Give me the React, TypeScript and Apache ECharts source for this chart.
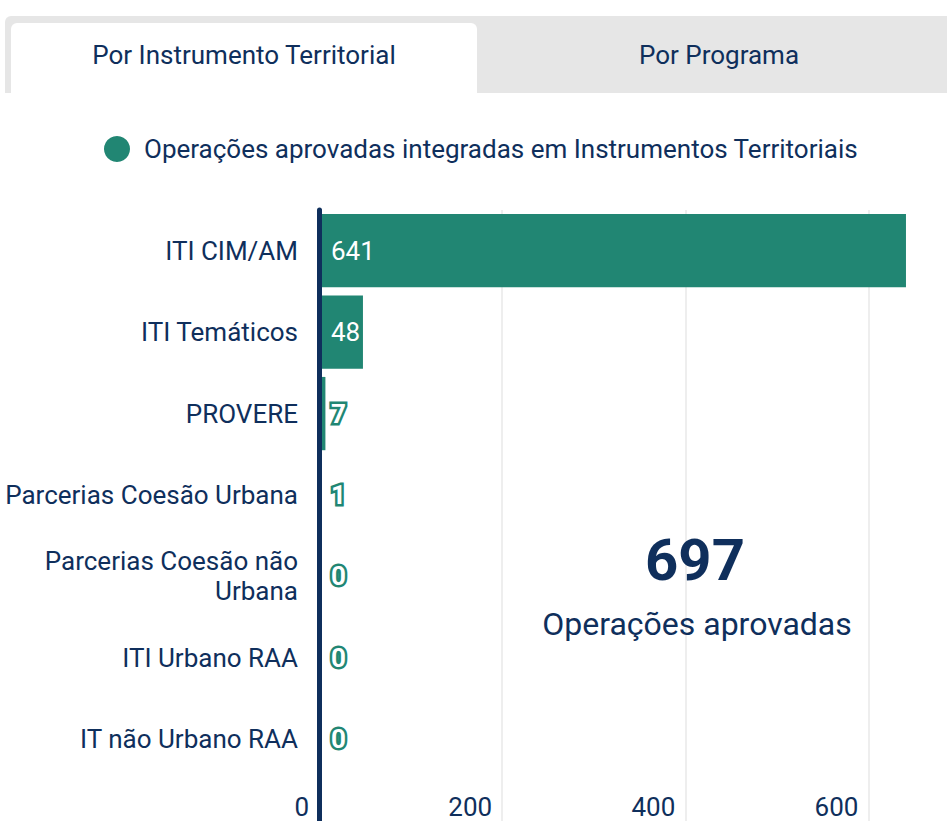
import React, { useEffect, useRef } from "react";
import * as echarts from "echarts";

const categories = [
  "ITI CIM/AM",
  "ITI Temáticos",
  "PROVERE",
  "Parcerias Coesão Urbana",
  "Parcerias Coesão não Urbana",
  "ITI Urbano RAA",
  "IT não Urbano RAA",
];
const values = [641, 48, 7, 1, 0, 0, 0];
const seriesName = "Operações aprovadas integradas em Instrumentos Territoriais";
const totalLabel = "Operações aprovadas";
const tabs = ["Por Instrumento Territorial", "Por Programa"];
const xMin = 0;
const xMax = 700;
const xInterval = 200;

const NAVY = "#0f2f5c";
const TEAL = "#218673";
const FONT = "Roboto, 'Noto Sans', sans-serif";

function wrapLabel(s: string): string {
  if (s.length <= 24) return s;
  const i = s.lastIndexOf(" ");
  return s.slice(0, i) + "\n" + s.slice(i + 1);
}

export default function App() {
  const ref = useRef<HTMLDivElement>(null);

  useEffect(() => {
    if (!ref.current) return;
    const chart = echarts.init(ref.current, undefined, { renderer: "svg" });
    const total = values.reduce((a, b) => a + b, 0);
    const data = values.map((v) => {
      const small = v < 20;
      return {
        value: v,
        label: small
          ? { color: "#ffffff", textBorderColor: TEAL, textBorderWidth: 5, fontWeight: "bold" }
          : { color: "#ffffff" },
      };
    });
    chart.setOption({
      animation: false,
      textStyle: { fontFamily: FONT },
      legend: {
        data: [seriesName],
        left: 99,
        top: 131,
        icon: "circle",
        itemWidth: 44,
        itemHeight: 26,
        textStyle: { fontSize: 26, color: NAVY, fontFamily: FONT },
      },
      grid: [
        { left: 319, top: 210, width: 641, height: 570 },
        { left: 319, top: 780, width: 641, height: 41 },
      ],
      xAxis: [
        {
          gridIndex: 0,
          type: "value",
          min: xMin,
          max: xMax,
          interval: xInterval,
          axisLine: { show: false },
          axisTick: { show: false },
          axisLabel: { show: false },
          splitLine: { show: true, lineStyle: { color: "#eeeeee", width: 2 } },
        },
        {
          gridIndex: 1,
          type: "value",
          min: xMin,
          max: xMax,
          interval: xInterval,
          axisLine: { show: false },
          axisTick: { show: false },
          axisLabel: {
            inside: true,
            align: "right",
            padding: [0, 10, 0, 0],
            margin: 1,
            fontSize: 26,
            color: NAVY,
            fontFamily: FONT,
            showMaxLabel: false,
          },
          splitLine: { show: true, lineStyle: { color: "#eeeeee", width: 2 } },
        },
      ],
      yAxis: [
        {
          gridIndex: 0,
          type: "category",
          inverse: true,
          data: categories,
          z: 10,
          axisLine: { show: true, lineStyle: { color: NAVY, width: 5 } },
          axisTick: { show: false },
          axisLabel: {
            fontSize: 26,
            color: NAVY,
            fontFamily: FONT,
            margin: 21,
            lineHeight: 30,
            align: "right",
            formatter: wrapLabel,
          },
        },
        {
          gridIndex: 1,
          type: "category",
          data: [""],
          z: 10,
          axisLine: { show: true, lineStyle: { color: NAVY, width: 5 } },
          axisTick: { show: false },
          axisLabel: { show: false },
        },
      ],
      series: [
        {
          name: seriesName,
          type: "bar",
          xAxisIndex: 0,
          yAxisIndex: 0,
          barCategoryGap: "10%",
          itemStyle: { color: TEAL },
          label: {
            show: true,
            position: "insideLeft",
            distance: 12,
            fontSize: 26,
            fontFamily: FONT,
          },
          data,
        },
      ],
      graphic: [
        {
          type: "text",
          x: 695,
          y: 560,
          z: 100,
          style: {
            text: String(total),
            fontSize: 58,
            fontWeight: "bold",
            fill: NAVY,
            fontFamily: FONT,
            align: "center",
            verticalAlign: "middle",
          },
        },
        {
          type: "text",
          x: 697,
          y: 624,
          z: 100,
          style: {
            text: totalLabel,
            fontSize: 32,
            fill: NAVY,
            fontFamily: FONT,
            align: "center",
            verticalAlign: "middle",
          },
        },
      ],
    });
    return () => chart.dispose();
  }, []);

  return (
    <div style={{ position: "absolute", left: 0, top: 0, width: 947, height: 821, overflow: "hidden", background: "#fff", fontFamily: FONT }}>
      <div ref={ref} style={{ position: "absolute", left: 0, top: 0, width: 990, height: 821 }} />
      <div style={{ position: "absolute", left: 5, top: 16, width: 960, height: 77, background: "#e6e6e6", borderTopLeftRadius: 6 }} />
      <div style={{ position: "absolute", left: 11, top: 23, width: 466, height: 70, background: "#ffffff", borderTopLeftRadius: 6, borderTopRightRadius: 6 }} />
      <div style={{ position: "absolute", left: 11, top: 39, width: 466, height: 32, lineHeight: "32px", textAlign: "center", fontSize: 26, color: NAVY }}>{tabs[0]}</div>
      <div style={{ position: "absolute", left: 477, top: 39, width: 484, height: 32, lineHeight: "32px", textAlign: "center", fontSize: 26, color: NAVY }}>{tabs[1]}</div>
    </div>
  );
}
